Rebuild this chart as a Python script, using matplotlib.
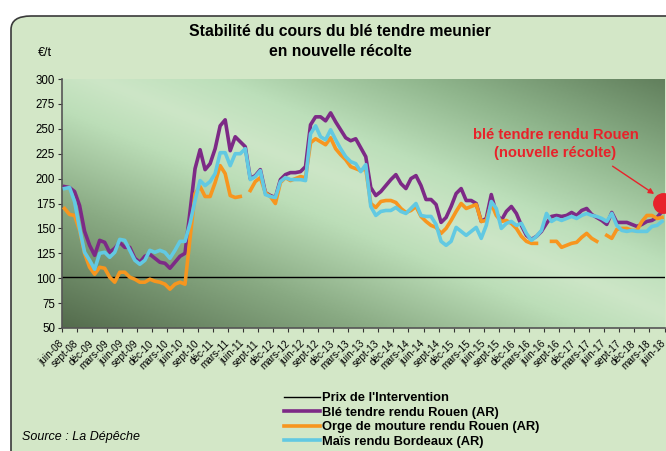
import numpy as np
import matplotlib.pyplot as plt
import matplotlib.transforms as mtransforms
from matplotlib.colors import LinearSegmentedColormap
from matplotlib.patches import FancyBboxPatch

plt.rcParams['font.family'] = ['Liberation Sans', 'DejaVu Sans']

# monthly prices, juin-08 .. mai-18 (€/t)
ble = [192, 191, 187, 173, 147, 133, 123, 138, 136, 126, 130, 136, 131, 131, 120, 116, 122, 124, 120, 116,
       115, 110, 116, 122, 125, 167, 210, 229, 209, 215, 230, 253, 259, 228, 242, 237, 232, 200, 203, 209,
       186, 183, 181, 199, 204, 206, 206, 207, 212, 254, 262, 262, 258, 266, 257, 249, 241, 238, 240, 231,
       222, 191, 183, 187, 193, 199, 204, 195, 190, 200, 203, 193, 179, 179, 174, 156, 161, 172, 185, 190,
       178, 178, 175, 157, 160, 184, 165, 158, 167, 172, 165, 153, 143, 139, 142, 147, 155, 162, 163, 162,
       163, 166, 163, 168, 170, 164, 161, 158, 154, 166, 156, 156, 156, 154, 152, 154, 157, 158, 161, 167]
orge = [170, 164, 163, 148, 125, 111, 104, 111, 110, 101, 96, 106, 106, 101, 99, 96, 96, 99, 97, 96,
        94, 89, 94, 96, 94, 140, 185, 192, 182, 182, 196, 213, 205, 183, 181, 182, None, 188, 197, 201,
        186, 182, 175, 196, 201, 198, 200, 202, 201, 236, 240, 237, 234, 241, 230, 224, 219, 212, 210, 208,
        210, 175, 171, 177, 178, 178, 176, 170, 166, 168, 172, 162, 157, 153, 151, 145, 150, 158, 167, 175,
        170, 172, 174, 157, 158, 175, 163, 157, 158, 155, 150, 142, 137, 135, 135, None, None, 137, 137, 131,
        133, 135, 136, 141, 145, 140, 137, None, 143, 140, 149, 150, 150, 148, 148, 157, 163, 163, 160, 161]
mais = [190, 191, 177, 150, 126, 118, 109, 125, 126, 121, 126, 139, 138, 128, 118, 114, 118, 128, 126, 128,
        126, 120, 128, 137, 137, 155, 178, 198, 193, 197, 205, 226, 226, 213, 225, 225, 230, 199, 202, 208,
        184, 182, 181, 197, 201, 199, 199, 199, 198, 245, 253, 242, 239, 249, 239, 230, 222, 217, 215, 207,
        214, 172, 163, 167, 168, 168, 171, 167, 165, 170, 175, 163, 162, 162, 154, 137, 133, 137, 151, 147,
        143, 147, 151, 140, 153, 177, 170, 150, 155, 157, 153, 155, 145, 138, 142, 148, 165, 157, 160, 158,
        160, 162, 160, 163, 165, 163, 162, 160, 157, 165, 153, 148, 147, 148, 147, 147, 147, 152, 153, 157]
intervention = 101.31
new_crop = 176

months = ['juin', 'sept', 'déc', 'mars']
tick_labels = []
for k in range(41):
    yr = 8 + (k + 2) // 4
    tick_labels.append(f"{months[k % 4]}-{yr:02d}")

n = len(ble)
x = np.arange(n) + 0.5
orge_arr = np.array([np.nan if v is None else v for v in orge], dtype=float)

fig = plt.figure(figsize=(6.66, 4.51), dpi=100)
fig.patch.set_facecolor('white')

# outer rounded frame
frame = FancyBboxPatch((11 / 666, -20 / 451), 700 / 666, 455 / 451,
                       boxstyle="round,pad=0,rounding_size=0.03",
                       transform=fig.transFigure, facecolor='#d3e7c7',
                       edgecolor='#3a3a3a', linewidth=1.2, zorder=-10)
fig.patches.append(frame)

ax = fig.add_axes([62 / 666, 1 - 328 / 451, 602.5 / 666, 249 / 451])
ax.set_zorder(1)

# diagonal gradient background
cmap = LinearSegmentedColormap.from_list('bg', [
    (0.0, '#546c4d'), (0.25, '#89aa83'), (0.44, '#bcdeb8'), (0.53, '#cde6c7'),
    (0.63, '#bcdfba'), (0.8, '#90b68d'), (1.0, '#62805d')])
gx, gy = np.meshgrid(np.linspace(0, 1, 300), np.linspace(0, 1, 150))
ax.imshow((gx + gy) / 2, extent=[0, 120, 50, 300], origin='lower', aspect='auto',
          cmap=cmap, vmin=0, vmax=1, zorder=0, interpolation='bilinear')

ax.axhline(intervention, color='black', lw=1.0, zorder=2, label="Prix de l'Intervention")
ax.plot(x, ble, color='#7d2a86', lw=2.6, zorder=3, label='Blé tendre rendu Rouen (AR)')
ax.plot(x, orge_arr, color='#f7961f', lw=2.6, zorder=4, label='Orge de mouture rendu Rouen (AR)')
ax.plot(x, mais, color='#62c9e2', lw=2.6, zorder=5, label='Maïs rendu Bordeaux (AR)')
ax.plot([119.8], [new_crop], 'o', color='#e8222a', ms=14, zorder=6, clip_on=False)

ax.set_xlim(0, 120)
ax.set_ylim(50, 300)
ax.set_yticks(np.arange(50, 301, 25))
ax.set_xticks(np.arange(0, 121, 3))
ax.set_xticklabels(tick_labels, rotation=45, ha='right', va='center', rotation_mode='anchor',
                   fontsize=7.2)
shift = mtransforms.ScaledTranslation(-3 / 100, 0, fig.dpi_scale_trans)
for lab in ax.get_xticklabels():
    lab.set_transform(lab.get_transform() + shift)
ax.tick_params(axis='y', labelsize=8.3, length=3, width=0.8, color='#333333', pad=2)
ax.tick_params(axis='x', length=3, width=0.8, color='#333333', pad=7)
for s in ['top', 'right']:
    ax.spines[s].set_visible(False)
for s in ['left', 'bottom']:
    ax.spines[s].set_color('#555555')
    ax.spines[s].set_linewidth(1.2)

fig.text(340 / 666, 1 - 31 / 451, 'Stabilité du cours du blé tendre meunier', ha='center', va='center',
         fontsize=11.3, fontweight='bold')
fig.text(340 / 666, 1 - 52 / 451, 'en nouvelle récolte', ha='center', va='center',
         fontsize=11.3, fontweight='bold')
fig.text(45 / 666, 1 - 53 / 451, '€/t', ha='center', va='center', fontsize=9)
fig.text(22 / 666, 1 - 437 / 451, 'Source : La Dépêche', ha='left', va='center', fontsize=9, style='italic')

ax.annotate('', xy=(118.4, 183), xytext=(109.2, 214),
            arrowprops=dict(arrowstyle='-|>', color='#e8222a', lw=1.0, mutation_scale=8))
ax.text(98.3, 235, 'blé tendre rendu Rouen\n(nouvelle récolte)', color='#e8222a', ha='center',
        va='center', fontsize=10.6, fontweight='bold', linespacing=1.35)

leg = fig.legend(loc='upper left', bbox_to_anchor=(284 / 666, 1 - 392 / 451), frameon=False,
                 prop={'weight': 'bold', 'size': 9.3}, handlelength=2.8,
                 handletextpad=0.15, labelspacing=0.2, borderaxespad=0, borderpad=0)

fig.savefig('out.png', dpi=100)
